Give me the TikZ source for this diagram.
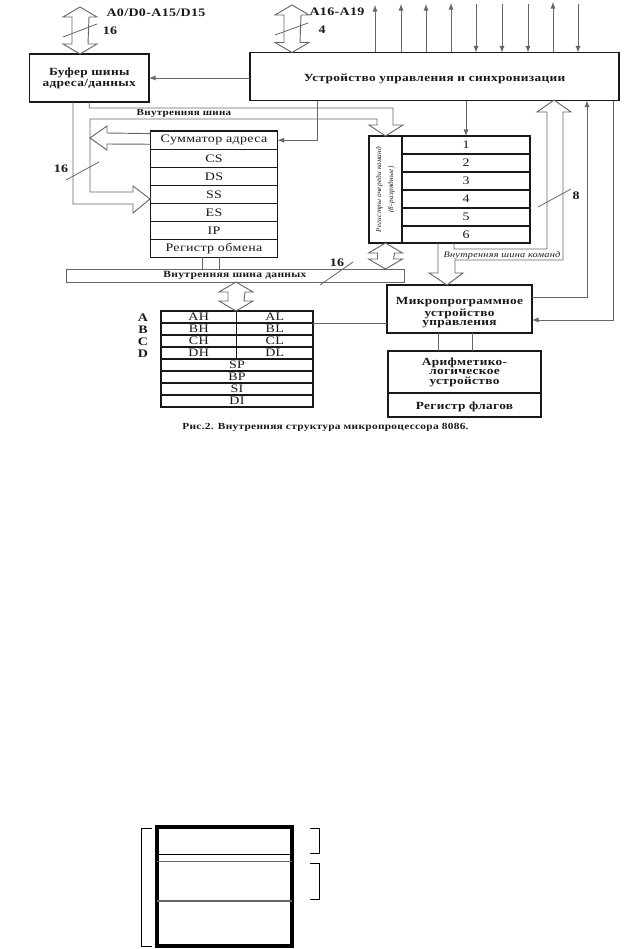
\documentclass[tikz,border=0pt]{standalone}
\usepackage{fontspec}
\setmainfont[LetterSpace=3,FakeStretch=1.22]{Liberation Serif}
\newfontfamily\plainface[LetterSpace=4]{Liberation Serif}
\usetikzlibrary{positioning}
\definecolor{inkblock}{gray}{0.10}
\definecolor{busblock}{gray}{0.40}
\def\px{0.75pt}
\def\dblarrow#1#2{\draw[busline] (#1) -- ++(17,10) -- ++(-8,0)
	-- ([shift={(8,-10)}]#2) -- ([shift={(17,-10)}]#2) -- (#2)
	-- ([shift={(-17,-10)}]#2) -- ([shift={(-8,-10)}]#2)
	-- ([shift={(-8,10)}]#1) -- ([shift={(-17,10)}]#1) -- cycle;}
\tikzset{
	blockbox/.style={draw=inkblock, line width=0.8pt, inner sep=0pt, outer sep=0pt, align=center, text=inkblock, font=\fontsize{8.2}{7.1}\selectfont\bfseries},
	regbox/.style={blockbox, font=\fontsize{8.6}{7}\selectfont},
	signal/.style={draw=busblock, line width=0.7pt},
	busline/.style={draw=busblock, line width=0.7pt},
	slash/.style={draw=busblock, line width=0.6pt},
	caplabel/.style={inner sep=0pt, text=inkblock, font=\fontsize{8.6}{8}\selectfont\bfseries},
	smalllabel/.style={inner sep=0pt, text=inkblock, font=\fontsize{6.8}{6}\selectfont\bfseries},
	inlabel/.style={inner sep=0pt, text=inkblock, font=\fontsize{6.3}{6}\selectfont\itshape},
	qlabel/.style={inner sep=0pt, text=inkblock, font=\plainface\fontsize{5.4}{7}\selectfont\itshape},
}
\begin{document}
\begin{tikzpicture}[x=0.75pt, y=-0.75pt]
	\fill[white] (0,0) rectangle (624,949);
	\useasboundingbox (0,0) rectangle (624,949);

	% --- top blocks ---
	\node[blockbox, minimum width=119.5*\px, minimum height=48*\px] (buf) at (89.25,78) {Буфер шины\\адреса/данных};
	\node[blockbox, minimum width=369*\px, minimum height=48*\px] (ctrl) at (434.5,76.5) {\rule{0pt}{9pt}Устройство управления и синхронизации};

	% --- address registers ---
	\node[regbox, minimum width=127*\px, minimum height=18.5*\px] (add) at (214,140.25) {Сумматор адреса};
	\node[regbox, minimum width=127*\px, minimum height=18*\px, below=0pt of add] (cs) {CS};
	\node[regbox, minimum width=127*\px, minimum height=18*\px, below=0pt of cs] (ds) {DS};
	\node[regbox, minimum width=127*\px, minimum height=18*\px, below=0pt of ds] (ss) {SS};
	\node[regbox, minimum width=127*\px, minimum height=18*\px, below=0pt of ss] (es) {ES};
	\node[regbox, minimum width=127*\px, minimum height=18*\px, below=0pt of es] (ip) {IP};
	\node[regbox, minimum width=127*\px, minimum height=18*\px, below=0pt of ip] (xchg) {Регистр обмена};

	% --- command queue ---
	\node[regbox, minimum width=33*\px, minimum height=107*\px] (qbox) at (385.5,189.5) {};
	\node[qlabel, rotate=90, align=center] (qtxt) at (qbox.center) {Регистры очереди команд\\[2pt](8-разрядные)};
	\node[regbox, minimum width=128*\px, minimum height=18*\px] (q1) at (466,145) {1};
	\node[regbox, minimum width=128*\px, minimum height=18*\px, below=0pt of q1] (q2) {2};
	\node[regbox, minimum width=128*\px, minimum height=18*\px, below=0pt of q2] (q3) {3};
	\node[regbox, minimum width=128*\px, minimum height=18*\px, below=0pt of q3] (q4) {4};
	\node[regbox, minimum width=128*\px, minimum height=18*\px, below=0pt of q4] (q5) {5};
	\node[regbox, minimum width=128*\px, minimum height=17*\px, below=0pt of q5] (q6) {6};

	% --- data bus ---
	\node[blockbox, draw=busblock, line width=0.7pt, minimum width=338*\px, minimum height=13*\px, font=\fontsize{7.1}{7}\selectfont\bfseries] (dbus) at (235,275.5) {Внутренняя шина данных};

	% --- general registers ---
	\node[regbox, minimum width=75.5*\px, minimum height=12*\px] (ah) at (198.75,317) {AH};
	\node[regbox, minimum width=76.5*\px, minimum height=12*\px] (al) at (274.75,317) {AL};
	\node[regbox, minimum width=75.5*\px, minimum height=12*\px, below=0pt of ah] (bh) {BH};
	\node[regbox, minimum width=76.5*\px, minimum height=12*\px, below=0pt of al] (bl) {BL};
	\node[regbox, minimum width=75.5*\px, minimum height=12*\px, below=0pt of bh] (ch) {CH};
	\node[regbox, minimum width=76.5*\px, minimum height=12*\px, below=0pt of bl] (cl) {CL};
	\node[regbox, minimum width=75.5*\px, minimum height=12*\px, below=0pt of ch] (dh) {DH};
	\node[regbox, minimum width=76.5*\px, minimum height=12*\px, below=0pt of cl] (dl) {DL};
	\node[regbox, minimum width=152*\px, minimum height=12*\px] (sp) at (237,365) {SP};
	\node[regbox, minimum width=152*\px, minimum height=12*\px, below=0pt of sp] (bp) {BP};
	\node[regbox, minimum width=152*\px, minimum height=12*\px, below=0pt of bp] (si) {SI};
	\node[regbox, minimum width=152*\px, minimum height=12*\px, below=0pt of si] (di) {DI};
	\node[caplabel] (la) at (143,318) {A};
	\node[caplabel] (lb) at (143,330) {B};
	\node[caplabel] (lc) at (143,342) {C};
	\node[caplabel] (ld) at (143,354) {D};

	% --- right blocks ---
	\node[blockbox, minimum width=145*\px, minimum height=48*\px] (mpu) at (459.5,309) {\rule{0pt}{11pt}Микропрограммное\\устройство\\управления};
	\node[blockbox, minimum width=153*\px, minimum height=42*\px] (alu) at (464.5,372) {Арифметико-\\логическое\\устройство};
	\node[blockbox, minimum width=153*\px, minimum height=24*\px, below=0pt of alu] (flags) {\rule{0pt}{9pt}Регистр флагов};

	% --- labels ---
	\node[caplabel] (pins1) at (156,13) {A0/D0-A15/D15};
	\node[caplabel] (w1) at (110,31) {16};
	\node[caplabel] (pins2) at (337,12) {A16-A19};
	\node[caplabel] (w2) at (322,30) {4};
	\node[caplabel] (w3) at (61,169) {16};
	\node[caplabel] (w4) at (337,263) {16};
	\node[caplabel] (w5) at (576,196) {8};
	\node[smalllabel] (ibus) at (184,113.5) {Внутренняя шина};
	\node[inlabel] (cbus) at (502,255) {Внутренняя шина команд};
	\node[caplabel, font=\fontsize{7}{7}\selectfont\bfseries] (capt) at (325.5,427) {Рис.2. Внутренняя структура микропроцессора 8086.};

	% --- double bus arrows ---
	\coordinate (in1) at (80,7);
	\coordinate (in1b) at (in1 |- buf.north);
	\dblarrow{in1}{in1b}
	\coordinate (in2) at (292,5);
	\coordinate (in2b) at (in2 |- ctrl.north);
	\dblarrow{in2}{in2b}
	\coordinate (qa) at (qbox.south);
	\coordinate (qab) at (qbox.south |- dbus.north);
	\dblarrow{qa}{qab}
	\coordinate (da) at (236,282);
	\coordinate (dab) at (236,311);
	\dblarrow{da}{dab}

	% --- bus width marks ---
	\draw[slash] (63,37) -- (97,24);
	\draw[slash] (275,35) -- (308,23);
	\draw[slash] (66,180) -- (99,162);
	\draw[slash] (320,285) -- (353,262);
	\draw[slash] (538,207) -- (571,189);

	% --- control pins ---
	\coordinate (t1) at (375,5);
	\coordinate (t2) at (401,4);
	\coordinate (t3) at (426,4);
	\coordinate (t4) at (451,3);
	\coordinate (t5) at (476,4);
	\coordinate (t6) at (502,4);
	\coordinate (t7) at (528,4);
	\coordinate (t8) at (553,2);
	\coordinate (t9) at (578,4);
	\draw[signal, -latex] (t1 |- ctrl.north) -- (t1);
	\draw[signal, -latex] (t2 |- ctrl.north) -- (t2);
	\draw[signal, -latex] (t3 |- ctrl.north) -- (t3);
	\draw[signal, -latex] (t4 |- ctrl.north) -- (t4);
	\draw[signal, -latex] (t5) -- (t5 |- ctrl.north);
	\draw[signal, -latex] (t6) -- (t6 |- ctrl.north);
	\draw[signal, -latex] (t7) -- (t7 |- ctrl.north);
	\draw[signal, -latex] (t8 |- ctrl.north) -- (t8);
	\draw[signal, -latex] (t9) -- (t9 |- ctrl.north);

	% --- single connectors ---
	\draw[signal, -latex] (ctrl.west |- buf.east) -- (buf.east);
	\draw[signal, -latex] (q1.north |- ctrl.south) -- (q1.north);
	\coordinate (cadd) at (317.5,101);
	\draw[signal, -latex] (cadd) |- (add.east);
	\coordinate (xa) at (202,257);
	\coordinate (xb) at (219,257);
	\draw[busline] (xa) -- (xa |- dbus.north);
	\draw[busline] (xb) -- (xb |- dbus.north);
	\draw[signal] (al.south east) -- (al.south east -| mpu.west);
	\coordinate (mb1) at (438,333);
	\coordinate (mb2) at (472,333);
	\draw[busline] (mb1) -- (mb1 |- alu.north);
	\draw[busline] (mb2) -- (mb2 |- alu.north);
	\coordinate (rup) at (587,297);
	\draw[signal, -latex] (rup -| mpu.east) -| (rup |- ctrl.south);
	\coordinate (rdn) at (613,320);
	\draw[signal, -latex] (rdn |- ctrl.south) |- (rdn -| mpu.east);

	% --- internal bus, hollow ---
	\coordinate (ibtip) at (150,199);
	\coordinate (ibleft) at (90,138);
	\draw[busline] (buf.south) -- (89.25,108) -- (393,108) -- (393,125) -- (403,125) -- (qbox.north) -- (369,125) -- (377,125) -- (377,119)
		-- (90,119) -- (90,192) -- (133,192) -- (133,186) -- (ibtip) -- (133,213) -- (133,204) -- (73,204) -- (73,102);
	\draw[busline] ([yshift=5pt]add.west) -- (107,133) -- (107,126) -- (ibleft) -- (107,150) -- (107,144) -- ([yshift=-3pt]add.west);

	% --- command bus, hollow ---
	\coordinate (cbl) at (454,243);
	\coordinate (mputip) at (447,285);
	\coordinate (ctrltip) at (554,100);
	\draw[busline] (cbl) -- (454,249) -- (547,249) -- (547,112) -- (537,112) -- (ctrltip) -- (571,112) -- (563,112) -- (563,260) -- (455,260)
		-- (455,273) -- (463,273) -- (mputip) -- (429,273) -- (438,273) -- (438,243);

	% --- lower frame ---
	\draw[line width=2.4pt] (157,827) rectangle (292,946);
	\draw[line width=0.7pt] (157,854) -- (292,854);
	\draw[line width=0.7pt, black!60] (157,861) -- (292,861);
	\draw[line width=1pt, black!60] (157,901) -- (292,901);
	\draw[line width=0.7pt] (152,828) -- (141,828) -- (141,946) -- (152,946);
	\draw[line width=0.7pt] (310,828) -- (319,828) -- (319,853) -- (310,853);
	\draw[line width=0.7pt] (310,863) -- (319,863) -- (319,899) -- (310,899);
\end{tikzpicture}
\end{document}
